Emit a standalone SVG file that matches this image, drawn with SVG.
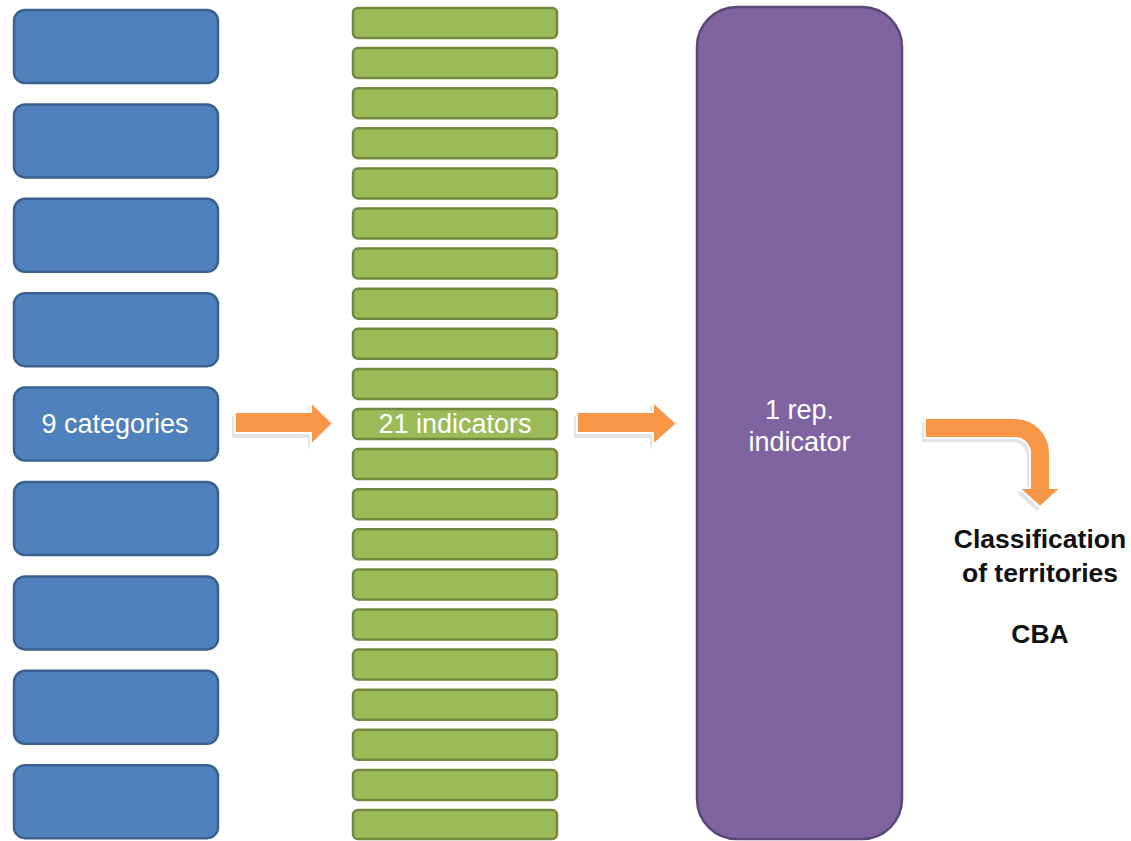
<svg xmlns="http://www.w3.org/2000/svg" width="1131" height="841" viewBox="0 0 1131 841">
<style>
.cat{fill:#4F81BD;stroke:#3A6190;stroke-width:2.5}
.ind{fill:#9BBB59;stroke:#71893F;stroke-width:2.5}
.rep{fill:#8064A2;stroke:#5C4776;stroke-width:2.5}
.lbl{font-family:"Liberation Sans",Arial,sans-serif;font-size:27px;fill:#FFFFFF;text-anchor:middle}
.out{font-family:"Liberation Sans",Arial,sans-serif;font-size:26.5px;font-weight:bold;fill:#111111;text-anchor:middle}
.arr{fill:#F79646;stroke:#FFFFFF;stroke-width:2;stroke-linejoin:miter}
.sh{fill:#E4E4E4}
</style>
<rect width="1131" height="841" fill="#FFFFFF"/>
<g id="categories">
<rect class="cat" x="14" y="10" width="204" height="73" rx="11"/>
<rect class="cat" x="14" y="104.4" width="204" height="73" rx="11"/>
<rect class="cat" x="14" y="198.8" width="204" height="73" rx="11"/>
<rect class="cat" x="14" y="293.2" width="204" height="73" rx="11"/>
<g id="cat-main">
<rect class="cat" x="14" y="387.6" width="204" height="73" rx="11"/>
<text class="lbl" x="115" y="433">9 categories</text>
</g>
<rect class="cat" x="14" y="482" width="204" height="73" rx="11"/>
<rect class="cat" x="14" y="576.4" width="204" height="73" rx="11"/>
<rect class="cat" x="14" y="670.8" width="204" height="73" rx="11"/>
<rect class="cat" x="14" y="765.2" width="204" height="73" rx="11"/>
</g>
<g id="indicators">
<rect class="ind" x="353" y="8" width="204" height="30" rx="5"/>
<rect class="ind" x="353" y="48.1" width="204" height="30" rx="5"/>
<rect class="ind" x="353" y="88.2" width="204" height="30" rx="5"/>
<rect class="ind" x="353" y="128.3" width="204" height="30" rx="5"/>
<rect class="ind" x="353" y="168.4" width="204" height="30" rx="5"/>
<rect class="ind" x="353" y="208.5" width="204" height="30" rx="5"/>
<rect class="ind" x="353" y="248.6" width="204" height="30" rx="5"/>
<rect class="ind" x="353" y="288.7" width="204" height="30" rx="5"/>
<rect class="ind" x="353" y="328.8" width="204" height="30" rx="5"/>
<rect class="ind" x="353" y="368.9" width="204" height="30" rx="5"/>
<g id="ind-main">
<rect class="ind" x="353" y="409" width="204" height="30" rx="5"/>
<text class="lbl" x="455" y="433">21 indicators</text>
</g>
<rect class="ind" x="353" y="449.1" width="204" height="30" rx="5"/>
<rect class="ind" x="353" y="489.2" width="204" height="30" rx="5"/>
<rect class="ind" x="353" y="529.3" width="204" height="30" rx="5"/>
<rect class="ind" x="353" y="569.4" width="204" height="30" rx="5"/>
<rect class="ind" x="353" y="609.5" width="204" height="30" rx="5"/>
<rect class="ind" x="353" y="649.6" width="204" height="30" rx="5"/>
<rect class="ind" x="353" y="689.7" width="204" height="30" rx="5"/>
<rect class="ind" x="353" y="729.8" width="204" height="30" rx="5"/>
<rect class="ind" x="353" y="769.9" width="204" height="30" rx="5"/>
<rect class="ind" x="353" y="810" width="204" height="29" rx="5"/>
</g>
<g id="rep-indicator">
<rect class="rep" x="697" y="7" width="205" height="832" rx="40"/>
<text class="lbl" x="799.5" y="419">1 rep.</text>
<text class="lbl" x="799.5" y="451">indicator</text>
</g>
<g id="classification">
<text class="out" x="1040" y="548">Classification</text>
<text class="out" x="1040" y="582">of territories</text>
<text class="out" x="1040" y="643">CBA</text>
</g>
<g id="connectors">
<polygon class="sh" points="232,416 308,416 308,406 330,427.5 308,449 308,438 232,438"/>
<polygon class="arr" points="235,412 311,412 311,402 333,423.5 311,445 311,433 235,433"/>
<polygon class="sh" points="574,416 650,416 650,406 674,427.5 650,449 650,438 574,438"/>
<polygon class="arr" points="577,412 653,412 653,402 677,423.5 653,445 653,433 577,433"/>
<path class="sh" d="M922,422 H1012 A35,35 0 0 1 1047,457 V492 H1058 L1037,511 L1016,492 H1027 V457 A15,15 0 0 0 1012,442 H922 Z"/>
<path class="arr" d="M925,418 H1015 A35,35 0 0 1 1050,453 V488 H1061 L1040,507 L1019,488 H1030 V453 A15,15 0 0 0 1015,438 H925 Z"/>
</g>
</svg>
